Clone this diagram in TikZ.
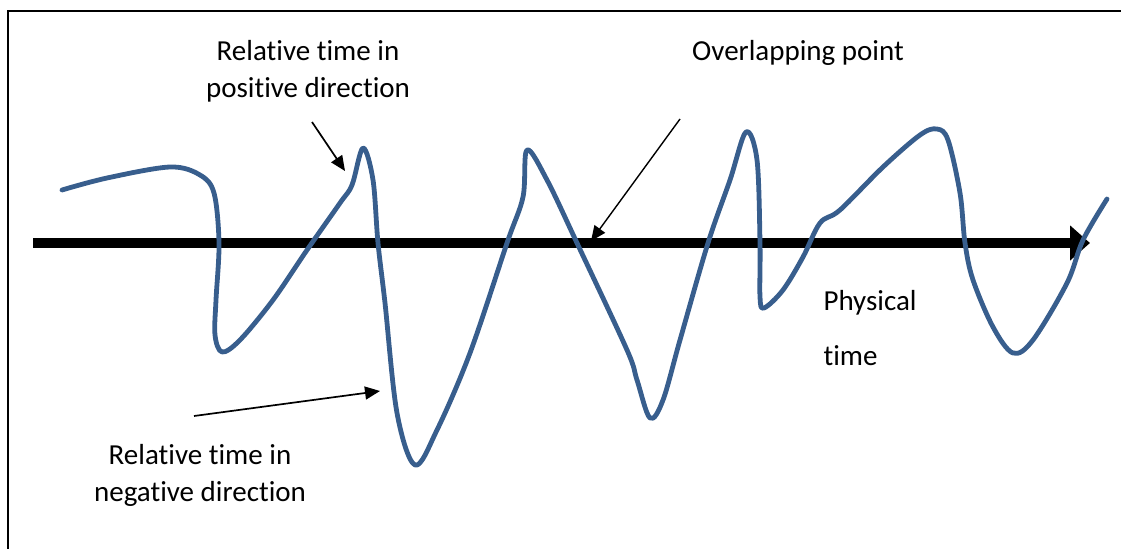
\documentclass[tikz,border=0pt]{standalone}
\usepackage{fontspec}
\setmainfont[Ligatures=NoCommon]{Carlito}
\usetikzlibrary{arrows.meta}

\definecolor{wave}{RGB}{56,94,141}

\begin{document}
\begin{tikzpicture}[x=1pt, y=-1pt,
    label/.style={align=center, font=\fontsize{29}{37}\selectfont},
    pointer/.style={-{Triangle[length=15pt, width=13pt]}, line width=1.7pt},
    timeline/.style={-{Triangle[length=20pt, width=34pt]}, line width=10pt},
    wavy/.style={wave, line width=4.8pt, line cap=round, line join=round}]

\useasboundingbox (0,0) rectangle (1121,549);

%okvir
\draw[line width=2pt] (1121,11) -- (8,11) -- (8,549);

%fizicko vrijeme
\coordinate (t0) at (33,243);
\coordinate (t1) at (1090,243);
\draw[timeline] (t0) -- (t1);

%relativno vrijeme
\draw[wavy] plot[smooth, tension=0.55] coordinates {
    (62,190) (107,178) (170,167) (200,175) (214,193) (219,243) (216,300)
    (215,335) (222,352) (240,340) (273,300) (307,250) (340,203) (352,185)
    (363,148) (373,180) (378,243) (385,303) (397,413) (415,465) (437,430)
    (470,353) (507,243) (523,197) (527,150) (547,180) (577,243) (627,350)
    (637,380) (650,418) (663,400) (680,340) (708,243) (730,180) (746,132)
    (757,160) (760,243) (760,297) (764,308) (783,290) (803,257) (820,223)
    (840,210) (883,167) (920,135) (937,129) (948,140) (960,193) (965,243)
    (973,280) (993,327) (1013,353) (1033,340) (1067,283) (1083,240) (1107,199)};

%natpisi
\node[label] (pos) at (308,71) {Relative time in\\positive direction};
\node[label] (over) at (798,53) {Overlapping point};
\node[label] (neg) at (200,475) {Relative time in\\negative direction};
\node[label, align=left, anchor=west, font=\fontsize{29}{55}\selectfont]
    (phys) at (820,328) {Physical\\time};

%strelice prema krivulji
\coordinate (posA) at (312,122);
\coordinate (posB) at (345,171);
\coordinate (overA) at (680,119);
\coordinate (overB) at (591,241);
\coordinate (negA) at (194,416);
\coordinate (negB) at (380,391);
\draw[pointer] (posA) -- (posB);
\draw[pointer, line width=1.4pt] (overA) -- (overB);
\draw[pointer] (negA) -- (negB);

\end{tikzpicture}
\end{document}
